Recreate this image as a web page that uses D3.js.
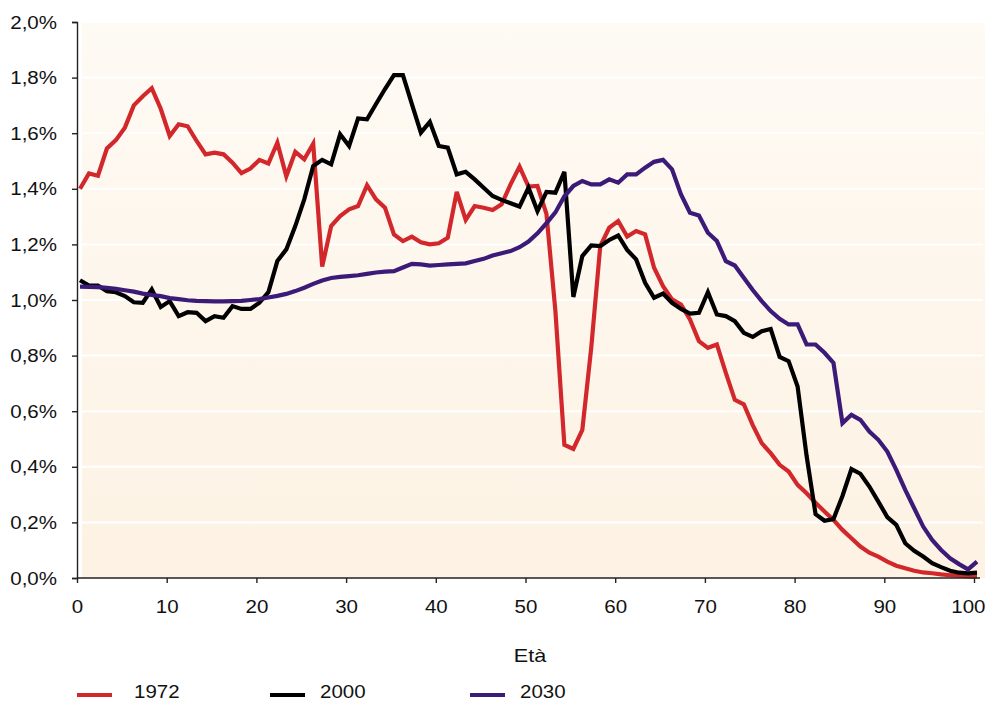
<!DOCTYPE html>
<html>
<head>
<meta charset="utf-8">
<script src="https://cdn.jsdelivr.net/npm/d3@7"></script>
<style>
  body { margin: 0; background: #fff; }
  text { font-family: "Liberation Sans", Arial, sans-serif; }
</style>
</head>
<body>
<svg id="chart" width="988" height="706"></svg>
<script>
// età 0..100
const ages = d3.range(0, 101);

// quota della popolazione per età (%)
const pop1972 = [
  1.40, 1.455, 1.447, 1.545, 1.575, 1.62, 1.70, 1.733, 1.762, 1.688,
  1.59, 1.632, 1.625, 1.572, 1.524, 1.53, 1.524, 1.494, 1.456, 1.473,
  1.504, 1.491, 1.566, 1.445, 1.533, 1.506, 1.562, 1.12, 1.266, 1.302,
  1.326, 1.338, 1.413, 1.362, 1.332, 1.236, 1.212, 1.228, 1.208, 1.20,
  1.204, 1.224, 1.389, 1.288, 1.338, 1.332, 1.324, 1.344, 1.416, 1.48,
  1.408, 1.41, 1.31, 0.96, 0.479, 0.464, 0.533, 0.83, 1.194, 1.26,
  1.284, 1.228, 1.248, 1.236, 1.116, 1.05, 1.002, 0.984, 0.93, 0.852,
  0.828, 0.84, 0.738, 0.641, 0.625, 0.55, 0.485, 0.449, 0.407, 0.383,
  0.335, 0.305, 0.271, 0.239, 0.209, 0.173, 0.143, 0.113, 0.091, 0.077,
  0.059, 0.044, 0.035, 0.026, 0.02, 0.017, 0.013, 0.01, 0.008, 0.006,
  0.005
];

const pop2000 = [
  1.071, 1.052, 1.052, 1.032, 1.028, 1.014, 0.992, 0.99, 1.038, 0.975,
  0.996, 0.942, 0.956, 0.954, 0.924, 0.942, 0.936, 0.978, 0.968, 0.968,
  0.99, 1.028, 1.14, 1.182, 1.266, 1.362, 1.482, 1.504, 1.488, 1.596,
  1.554, 1.653, 1.65, 1.705, 1.759, 1.809, 1.809, 1.705, 1.602, 1.641,
  1.554, 1.548, 1.452, 1.461, 1.434, 1.404, 1.374, 1.36, 1.348, 1.336,
  1.404, 1.32, 1.389, 1.386, 1.461, 1.011, 1.158, 1.196, 1.194, 1.216,
  1.232, 1.18, 1.146, 1.062, 1.008, 1.023, 0.99, 0.968, 0.951, 0.954,
  1.028, 0.948, 0.942, 0.924, 0.882, 0.867, 0.888, 0.896, 0.795, 0.78,
  0.689, 0.44, 0.23, 0.206, 0.212, 0.295, 0.392, 0.375, 0.329, 0.275,
  0.219, 0.191, 0.125, 0.098, 0.077, 0.053, 0.039, 0.026, 0.019, 0.017,
  0.019
];

const pop2030 = [
  1.048, 1.047, 1.046, 1.044, 1.04, 1.035, 1.03, 1.023, 1.018, 1.014,
  1.007, 1.003, 0.999, 0.997, 0.996, 0.995, 0.995, 0.996, 0.997, 1.0,
  1.003, 1.009, 1.015, 1.022, 1.032, 1.044, 1.058, 1.07, 1.079, 1.083,
  1.086, 1.089, 1.094, 1.099, 1.102, 1.104, 1.117, 1.13, 1.128, 1.124,
  1.126, 1.128, 1.13, 1.132, 1.14, 1.148, 1.16, 1.168, 1.176, 1.19,
  1.21, 1.24, 1.276, 1.315, 1.373, 1.41, 1.428, 1.416, 1.416, 1.434,
  1.422, 1.452, 1.452, 1.476, 1.497, 1.504, 1.47, 1.38, 1.314, 1.304,
  1.242, 1.212, 1.14, 1.124, 1.08, 1.036, 0.996, 0.96, 0.932, 0.912,
  0.912, 0.84, 0.84, 0.81, 0.774, 0.557, 0.587, 0.569, 0.527, 0.497,
  0.455, 0.389, 0.317, 0.251, 0.185, 0.137, 0.101, 0.071, 0.05, 0.031,
  0.059
];

const seriesNames = ['1972', '2000', '2030'];
const seriesColors = ['#d2282c', '#000000', '#3b1a78'];
const xTicks = [0, 10, 20, 30, 40, 50, 60, 70, 80, 90, 100];
const yTicks = [0, 0.2, 0.4, 0.6, 0.8, 1.0, 1.2, 1.4, 1.6, 1.8, 2.0];

const series = [pop1972, pop2000, pop2030].map((vals, i) => ({
  name: seriesNames[i],
  color: seriesColors[i],
  values: vals.map((v, j) => ({ age: ages[j], v }))
}));

const margin = { top: 22, right: 3, bottom: 128, left: 77 };
const width = 988;
const height = 706;
const stretch = 1.08; // il testo del grafico originale è un po' allargato

const svg = d3.select('#chart');

const x = d3.scaleLinear().domain([0, 100]).range([margin.left, 974]);
// i punti stanno un po' a destra delle tacche, come nell'originale
const xPts = x.copy().range([margin.left + 3, 977]);
const y = d3.scaleLinear().domain([0, 2]).range([height - margin.bottom, margin.top]);

const it = d3.formatLocale({ decimal: ',', thousands: '.', grouping: [3], currency: ['', '€'] });
const fmt = it.format('.1f');

// sfondo sfumato dell'area del grafico
const grad = svg.append('defs').append('linearGradient')
  .attr('id', 'bg').attr('x1', 0).attr('y1', 0).attr('x2', 0).attr('y2', 1);
grad.append('stop').attr('offset', '0%').attr('stop-color', '#fefaf4');
grad.append('stop').attr('offset', '100%').attr('stop-color', '#fdf2e3');

svg.append('rect')
  .attr('x', margin.left + 5)
  .attr('y', y(2))
  .attr('width', width - margin.right - margin.left - 5)
  .attr('height', y(0) - y(2))
  .attr('fill', 'url(#bg)');

// griglia bianca
svg.append('g')
  .selectAll('line')
  .data(yTicks.slice(1))
  .join('line')
  .attr('x1', margin.left + 5)
  .attr('x2', 983)
  .attr('y1', d => y(d))
  .attr('y2', d => y(d))
  .attr('stroke', '#ffffff')
  .attr('stroke-width', 2);

// linee
const line = d3.line()
  .x(d => xPts(d.age))
  .y(d => y(d.v));

svg.append('g')
  .selectAll('path')
  .data(series)
  .join('path')
  .attr('fill', 'none')
  .attr('stroke', d => d.color)
  .attr('stroke-width', 4.2)
  .attr('stroke-linejoin', 'miter')
  .attr('d', d => line(d.values));

// assi
const yAxis = d3.axisLeft(y)
  .tickValues(yTicks)
  .tickSize(5)
  .tickPadding(15)
  .tickFormat(d => fmt(d) + '%');

const gy = svg.append('g')
  .attr('transform', `translate(${margin.left},0)`)
  .call(yAxis);

const xAxis = d3.axisBottom(x)
  .tickValues(xTicks)
  .tickSize(5)
  .tickSizeOuter(0)
  .tickPadding(17);

const gx = svg.append('g')
  .attr('transform', `translate(0,${y(0)})`)
  .call(xAxis);

gx.select('.domain').attr('d', `M${margin.left},0H980`);

[gx, gy].forEach(g => {
  g.select('.domain').attr('stroke', '#222').attr('stroke-width', 1.4);
  g.selectAll('.tick line').attr('stroke', '#222').attr('stroke-width', 1.4);
  g.selectAll('.tick text')
    .attr('font-family', '"Liberation Sans", Arial, sans-serif')
    .attr('font-size', 19)
    .attr('fill', '#111');
});

gy.selectAll('.tick text')
  .attr('x', 0)
  .attr('transform', `translate(-20,0) scale(${stretch},1)`);

gx.selectAll('.tick text')
  .attr('transform', `scale(${stretch},1)`)
  .filter(d => d === 100)
  .attr('text-anchor', 'end')
  .attr('transform', `translate(11,0) scale(${stretch},1)`);

svg.append('text')
  .attr('transform', 'translate(530,662) scale(1.2,1)')
  .attr('text-anchor', 'middle')
  .attr('font-size', 18)
  .attr('fill', '#111')
  .text('Età');

// legenda
const legendX = [77, 270, 470];
const legend = svg.append('g')
  .selectAll('g')
  .data(series)
  .join('g')
  .attr('transform', (d, i) => `translate(${legendX[i]},695)`);

legend.append('line')
  .attr('x1', 0).attr('x2', 35)
  .attr('stroke', d => d.color)
  .attr('stroke-width', 4);

legend.append('text')
  .attr('transform', (d, i) => `translate(${i === 0 ? 57 : 50},3) scale(1.17,1)`)
  .attr('font-size', 17.5)
  .attr('fill', '#111')
  .text(d => d.name);
</script>
</body>
</html>
